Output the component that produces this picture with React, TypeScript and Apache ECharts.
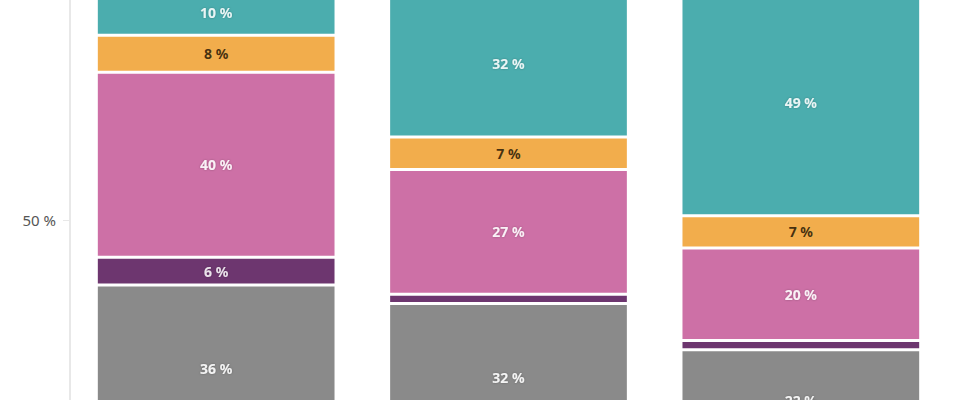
import React, { useEffect, useRef } from "react";
import * as echarts from "echarts";

const categories = ["A", "B", "C"];
const seriesNames = ["Grau", "Lila", "Rosa", "Orange", "Türkis"];
const grayValues = [36, 32, 22];
const purpleValues = [6, 2, 2];
const pinkValues = [40, 27, 20];
const orangeValues = [8, 7, 7];
const tealValues = [10, 32, 49];
const yTicks = [0, 50, 100];
const visibleTickLabels = [50];

const colors = ["#8a8a8a", "#6d366f", "#cd70a6", "#f2ad4c", "#4badae"];
const labelColors = [
  "rgba(255,255,255,0.9)",
  "rgba(255,255,255,0.85)",
  "rgba(255,255,255,0.9)",
  "rgba(40,25,5,0.85)",
  "rgba(255,255,255,0.88)",
];

export default function App() {
  const ref = useRef<HTMLDivElement>(null);
  useEffect(() => {
    if (!ref.current) return;
    const chart = echarts.init(ref.current, null, { renderer: "svg" });
    const all = [grayValues, purpleValues, pinkValues, orangeValues, tealValues];
    chart.setOption({
      animation: false,
      grid: { left: 70, right: 33, top: 20, bottom: 17.5, containLabel: false },
      xAxis: {
        type: "category",
        data: categories,
        axisLine: { show: false },
        axisTick: { show: false },
        axisLabel: { show: false },
      },
      yAxis: {
        type: "value",
        min: yTicks[0],
        max: yTicks[yTicks.length - 1],
        interval: 50,
        splitLine: { show: false },
        axisLine: { show: true, lineStyle: { color: "#e8e8e8", width: 2 } },
        axisTick: { show: true, length: 7, lineStyle: { color: "#e8e8e8", width: 1 } },
        axisLabel: {
          margin: 14,
          formatter: (v: number) => (visibleTickLabels.includes(v) ? `${v} %` : ""),
          color: "#555",
          fontSize: 15,
          fontFamily: "Noto Sans",
        },
      },
      series: all.map((vals, i) => ({
        name: seriesNames[i],
        type: "bar",
        stack: "total",
        barCategoryGap: "18%",
        data: vals,
        itemStyle: { color: colors[i], borderColor: "#fff", borderWidth: 1.5 },
        label: {
          show: true,
          position: "inside",
          formatter: (p: any) => (p.value >= 4 ? `${p.value} %` : ""),
          color: labelColors[i],
          fontSize: 14,
          fontWeight: "bold",
          fontFamily: "Noto Sans",
          textShadowColor: i === 3 ? "rgba(0,0,0,0)" : "rgba(0,0,0,0.3)",
          textShadowBlur: i === 3 ? 0 : 2,
        },
      })),
    });
    return () => chart.dispose();
  }, []);
  return (
    <div
      style={{
        position: "fixed",
        top: 0,
        left: 0,
        width: 980,
        height: 400,
        overflow: "hidden",
        background: "#fff",
      }}
    >
      <div ref={ref} style={{ position: "absolute", top: -31, left: 0, width: 980, height: 500 }} />
    </div>
  );
}
